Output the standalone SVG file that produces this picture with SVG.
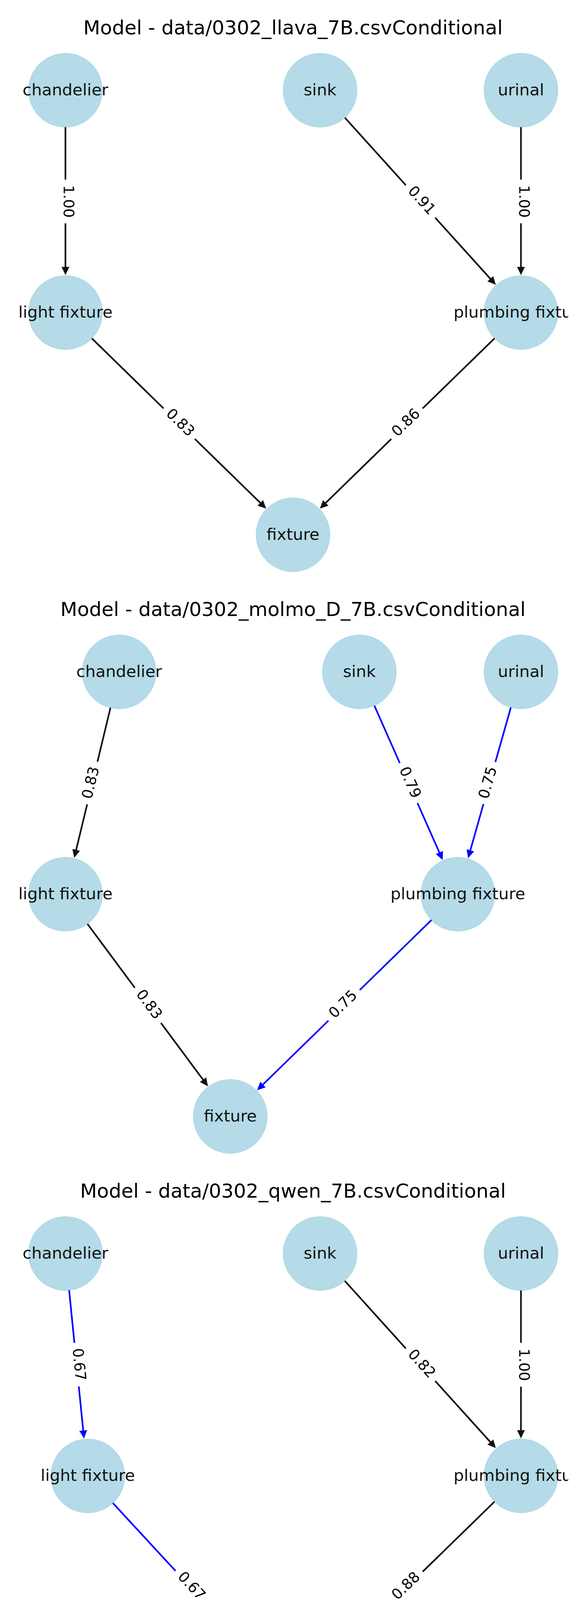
<svg xmlns="http://www.w3.org/2000/svg" width="1500" height="6000" viewBox="0 0 1500 6000">
<style>
.bg{fill:#ffffff}
.title{font-family:"DejaVu Sans","Liberation Sans",sans-serif;font-size:50px;fill:#000;text-anchor:middle}
.node circle{fill:#b4dbe7;stroke:#add6e3;stroke-width:1.5}
.node text{font-family:"DejaVu Sans","Liberation Sans",sans-serif;font-size:41.7px;fill:#111;text-anchor:middle}
.e{stroke-width:4.2;fill:none}
.k{stroke:#111;marker-end:url(#ak)}
.b{stroke:#0000ff;marker-end:url(#ab)}
.lb rect{fill:#ffffff}
.lb text{font-family:"DejaVu Sans","Liberation Sans",sans-serif;font-size:37.5px;fill:#000;text-anchor:middle}
</style>
<defs>
<marker id="ak" viewBox="0 -11 22 22" markerWidth="22" markerHeight="22" refX="1" refY="0" orient="auto" markerUnits="userSpaceOnUse"><path d="M0,-10 L21,0 L0,10 Z" fill="#111"/></marker>
<marker id="ab" viewBox="0 -11 22 22" markerWidth="22" markerHeight="22" refX="1" refY="0" orient="auto" markerUnits="userSpaceOnUse"><path d="M0,-10 L21,0 L0,10 Z" fill="#0000ff"/></marker>
<clipPath id="ax" clipPathUnits="userSpaceOnUse"><rect x="45" y="-100" width="1409.5" height="1600"/></clipPath>
</defs>
<rect class="bg" x="0" y="0" width="1500" height="6000"/>

<!-- Panel 1 -->
<g id="panel1">
<text class="title" x="750" y="88">Model - data/0302_llava_7B.csvConditional</text>
<g clip-path="url(#ax)">
<g id="p1-nodes">
<g id="p1-chandelier" class="node"><circle cx="167.5" cy="231" r="94.5"/><text x="167.5" y="243.5">chandelier</text></g>
<g id="p1-sink" class="node"><circle cx="819.3" cy="231" r="94.5"/><text x="819.3" y="243.5">sink</text></g>
<g id="p1-urinal" class="node"><circle cx="1333.5" cy="231" r="94.5"/><text x="1333.5" y="243.5">urinal</text></g>
<g id="p1-light-fixture" class="node"><circle cx="167.5" cy="800.3" r="94.5"/><text x="167.5" y="812.8">light fixture</text></g>
<g id="p1-plumbing-fixture" class="node"><circle cx="1333.5" cy="800.3" r="94.5"/><text x="1333.5" y="812.8">plumbing fixture</text></g>
<g id="p1-fixture" class="node"><circle cx="750" cy="1369" r="94.5"/><text x="750" y="1381.5">fixture</text></g>
</g>
<g id="p1-connectors">
<line class="e k" x1="167.5" y1="325.5" x2="167.5" y2="684.3"/>
<line class="e k" x1="882.64" y1="301.13" x2="1255.74" y2="714.22"/>
<line class="e k" x1="1333.5" y1="325.5" x2="1333.5" y2="684.3"/>
<line class="e k" x1="235.12" y1="866.32" x2="667.0" y2="1287.97"/>
<line class="e k" x1="1265.83" y1="866.26" x2="833.07" y2="1288.04"/>
<g class="lb" transform="translate(167.5,515.65) rotate(90)"><rect x="-56" y="-31" width="112" height="62" rx="10"/><text x="0" y="5">1.00</text></g>
<g class="lb" transform="translate(1076.4,515.65) rotate(47.91)"><rect x="-56" y="-31" width="112" height="62" rx="10"/><text x="0" y="8">0.91</text></g>
<g class="lb" transform="translate(1333.5,515.65) rotate(90)"><rect x="-56" y="-31" width="112" height="62" rx="10"/><text x="0" y="5">1.00</text></g>
<g class="lb" transform="translate(458.75,1084.65) rotate(44.31)"><rect x="-56" y="-31" width="112" height="62" rx="10"/><text x="0" y="8">0.83</text></g>
<g class="lb" transform="translate(1041.75,1084.65) rotate(-44.26)"><rect x="-56" y="-31" width="112" height="62" rx="10"/><text x="0" y="8">0.86</text></g>
</g>
</g>
</g>

<!-- Panel 2 -->
<g id="panel2" transform="translate(0,1489)">
<text class="title" x="750" y="88">Model - data/0302_molmo_D_7B.csvConditional</text>
<g clip-path="url(#ax)">
<g id="p2-nodes">
<g id="p2-chandelier" class="node"><circle cx="305" cy="231" r="94.5"/><text x="305" y="243.5">chandelier</text></g>
<g id="p2-sink" class="node"><circle cx="920" cy="231" r="94.5"/><text x="920" y="243.5">sink</text></g>
<g id="p2-urinal" class="node"><circle cx="1333.5" cy="231" r="94.5"/><text x="1333.5" y="243.5">urinal</text></g>
<g id="p2-light-fixture" class="node"><circle cx="167.5" cy="800.3" r="94.5"/><text x="167.5" y="812.8">light fixture</text></g>
<g id="p2-plumbing-fixture" class="node"><circle cx="1172" cy="800.3" r="94.5"/><text x="1172" y="812.8">plumbing fixture</text></g>
<g id="p2-fixture" class="node"><circle cx="589.5" cy="1369" r="94.5"/><text x="589.5" y="1381.5">fixture</text></g>
</g>
<g id="p2-connectors">
<line class="e k" x1="282.81" y1="322.86" x2="194.74" y2="687.54"/>
<line class="e k" x1="223.81" y1="876.19" x2="520.37" y2="1275.85"/>
<line class="e b" x1="958.25" y1="317.41" x2="1125.04" y2="694.23"/>
<line class="e b" x1="1307.71" y1="321.91" x2="1203.66" y2="688.70"/>
<line class="e b" x1="1104.38" y1="866.32" x2="672.50" y2="1287.97"/>
<g class="lb" transform="translate(236.25,515.65) rotate(-76.42)"><rect x="-56" y="-31" width="112" height="62" rx="10"/><text x="0" y="8">0.83</text></g>
<g class="lb" transform="translate(378.5,1084.65) rotate(53.43)"><rect x="-56" y="-31" width="112" height="62" rx="10"/><text x="0" y="8">0.83</text></g>
<g class="lb" transform="translate(1046,515.65) rotate(66.13)"><rect x="-56" y="-31" width="112" height="62" rx="10"/><text x="0" y="8">0.79</text></g>
<g class="lb" transform="translate(1252.75,515.65) rotate(-74.16)"><rect x="-56" y="-31" width="112" height="62" rx="10"/><text x="0" y="8">0.75</text></g>
<g class="lb" transform="translate(880.75,1084.65) rotate(-44.31)"><rect x="-56" y="-31" width="112" height="62" rx="10"/><text x="0" y="8">0.75</text></g>
</g>
</g>
</g>

<!-- Panel 3 -->
<g id="panel3" transform="translate(0,2978)">
<text class="title" x="750" y="88">Model - data/0302_qwen_7B.csvConditional</text>
<g clip-path="url(#ax)">
<g id="p3-nodes">
<g id="p3-chandelier" class="node"><circle cx="167.5" cy="231" r="94.5"/><text x="167.5" y="243.5">chandelier</text></g>
<g id="p3-sink" class="node"><circle cx="819.3" cy="231" r="94.5"/><text x="819.3" y="243.5">sink</text></g>
<g id="p3-urinal" class="node"><circle cx="1333.5" cy="231" r="94.5"/><text x="1333.5" y="243.5">urinal</text></g>
<g id="p3-light-fixture" class="node"><circle cx="224.7" cy="800.3" r="94.5"/><text x="224.7" y="812.8">light fixture</text></g>
<g id="p3-plumbing-fixture" class="node"><circle cx="1333.5" cy="800.3" r="94.5"/><text x="1333.5" y="812.8">plumbing fixture</text></g>
<g id="p3-fixture" class="node"><circle cx="750" cy="1369" r="94.5"/><text x="750" y="1381.5">fixture</text></g>
</g>
<g id="p3-connectors">
<line class="e b" x1="176.95" y1="325.03" x2="213.10" y2="684.88"/>
<line class="e b" x1="288.82" y1="869.72" x2="671.29" y2="1283.79"/>
<line class="e k" x1="882.64" y1="301.13" x2="1255.74" y2="714.22"/>
<line class="e k" x1="1333.5" y1="325.5" x2="1333.5" y2="684.3"/>
<line class="e k" x1="1265.83" y1="866.26" x2="833.07" y2="1288.04"/>
<g class="lb" transform="translate(196.1,515.65) rotate(84.26)"><rect x="-56" y="-31" width="112" height="62" rx="10"/><text x="0" y="6">0.67</text></g>
<g class="lb" transform="translate(487.35,1084.65) rotate(47.27)"><rect x="-56" y="-31" width="112" height="62" rx="10"/><text x="0" y="8">0.67</text></g>
<g class="lb" transform="translate(1076.4,515.65) rotate(47.91)"><rect x="-56" y="-31" width="112" height="62" rx="10"/><text x="0" y="8">0.82</text></g>
<g class="lb" transform="translate(1333.5,515.65) rotate(90)"><rect x="-56" y="-31" width="112" height="62" rx="10"/><text x="0" y="5">1.00</text></g>
<g class="lb" transform="translate(1041.75,1084.65) rotate(-44.26)"><rect x="-56" y="-31" width="112" height="62" rx="10"/><text x="0" y="8">0.88</text></g>
</g>
</g>
</g>

<!-- Panel 4 -->
<g id="panel4" transform="translate(0,4467)">
<text class="title" x="750" y="88">Model - data/0306_mllama_11B.csvConditional</text>
<g clip-path="url(#ax)">
<g id="p4-nodes">
<g id="p4-chandelier" class="node"><circle cx="167.5" cy="231" r="94.5"/><text x="167.5" y="243.5">chandelier</text></g>
<g id="p4-sink" class="node"><circle cx="819.3" cy="231" r="94.5"/><text x="819.3" y="243.5">sink</text></g>
<g id="p4-urinal" class="node"><circle cx="1333.5" cy="231" r="94.5"/><text x="1333.5" y="243.5">urinal</text></g>
<g id="p4-light-fixture" class="node"><circle cx="167.5" cy="800.3" r="94.5"/><text x="167.5" y="812.8">light fixture</text></g>
<g id="p4-plumbing-fixture" class="node"><circle cx="1333.5" cy="800.3" r="94.5"/><text x="1333.5" y="812.8">plumbing fixture</text></g>
<g id="p4-fixture" class="node"><circle cx="750" cy="1369" r="94.5"/><text x="750" y="1381.5">fixture</text></g>
</g>
<g id="p4-connectors">
<line class="e k" x1="167.5" y1="325.5" x2="167.5" y2="684.3"/>
<line class="e k" x1="882.64" y1="301.13" x2="1255.74" y2="714.22"/>
<line class="e k" x1="1333.5" y1="325.5" x2="1333.5" y2="684.3"/>
<line class="e b" x1="235.12" y1="866.32" x2="667.0" y2="1287.97"/>
<line class="e k" x1="1265.83" y1="866.26" x2="833.07" y2="1288.04"/>
<g class="lb" transform="translate(167.5,515.65) rotate(90)"><rect x="-56" y="-31" width="112" height="62" rx="10"/><text x="0" y="5">1.00</text></g>
<g class="lb" transform="translate(1076.4,515.65) rotate(47.91)"><rect x="-56" y="-31" width="112" height="62" rx="10"/><text x="0" y="8">0.91</text></g>
<g class="lb" transform="translate(1333.5,515.65) rotate(90)"><rect x="-56" y="-31" width="112" height="62" rx="10"/><text x="0" y="5">1.00</text></g>
<g class="lb" transform="translate(458.75,1084.65) rotate(44.31)"><rect x="-56" y="-31" width="112" height="62" rx="10"/><text x="0" y="8">0.75</text></g>
<g class="lb" transform="translate(1041.75,1084.65) rotate(-44.26)"><rect x="-56" y="-31" width="112" height="62" rx="10"/><text x="0" y="8">0.88</text></g>
</g>
</g>
</g>
</svg>
